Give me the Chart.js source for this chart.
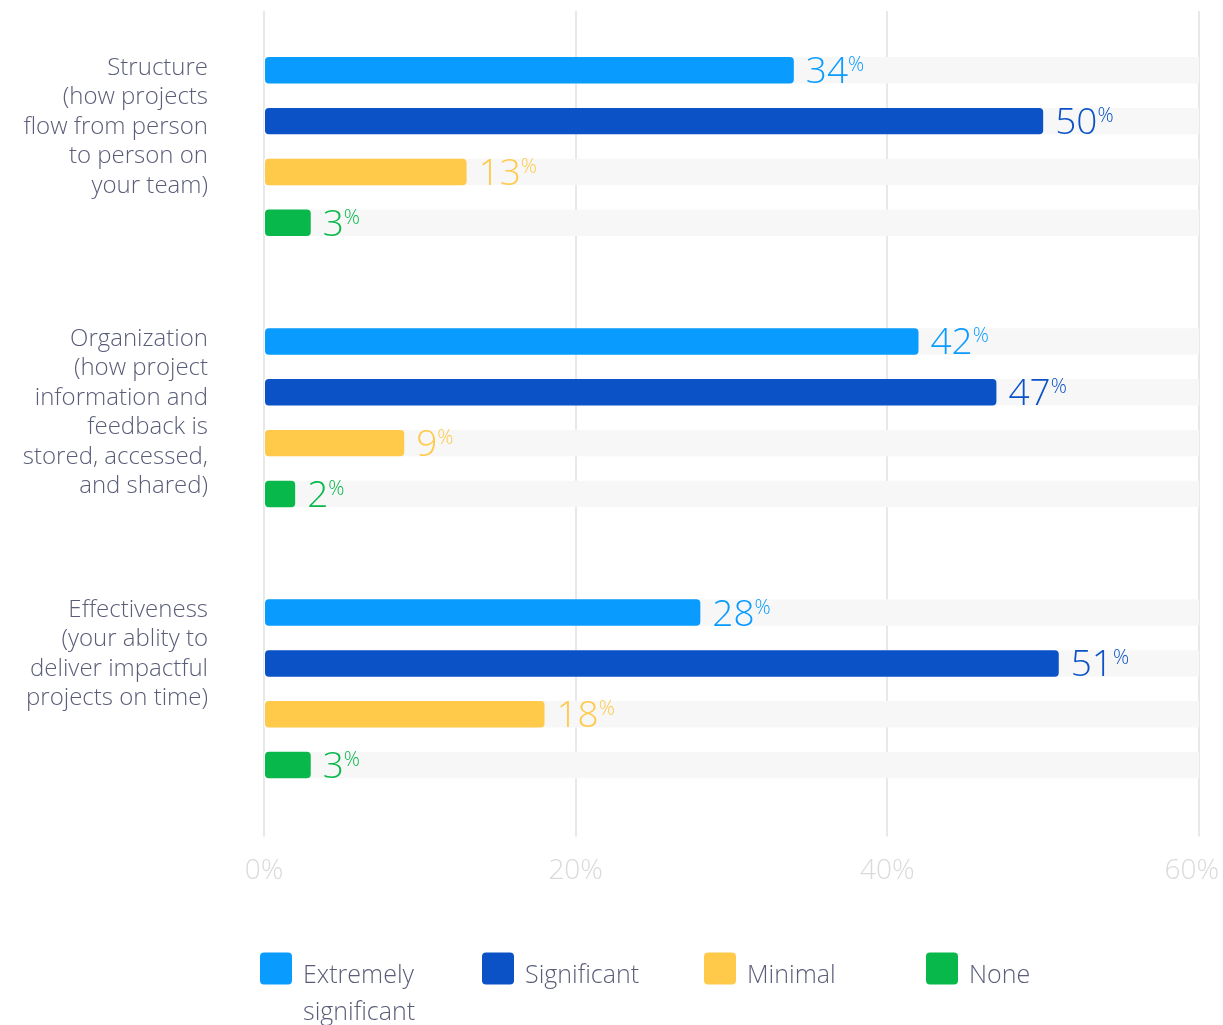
<!DOCTYPE html>
<html>
<head>
<meta charset="utf-8">
<script src="https://cdn.jsdelivr.net/npm/chart.js@4/dist/chart.umd.min.js"></script>
<style>
  html, body { margin: 0; padding: 0; background: #fff; }
  canvas { display: block; }
</style>
</head>
<body>
<canvas id="impactChart" width="1223" height="1025"></canvas>
<script>
// categories (each entry is split over several lines)
const categories = [
    ['Structure', '(how projects', 'flow from person', 'to person on', 'your team)'],
    ['Organization', '(how project', 'information and', 'feedback is', 'stored, accessed,', 'and shared)'],
    ['Effectiveness', '(your ablity to', 'deliver impactful', 'projects on time)']
];

const seriesNames = ['Extremely significant', 'Significant', 'Minimal', 'None'];
const legendLines = [['Extremely', 'significant'], ['Significant'], ['Minimal'], ['None']];
const seriesColors = ['#0a9bff', '#0b52c6', '#ffc94a', '#08b84a'];

// share of answers, in percent
const extremelyValues = [34, 42, 28];
const significantValues = [50, 47, 51];
const minimalValues = [13, 9, 18];
const noneValues = [3, 2, 3];

const xTicks = [0, 20, 40, 60];

const FONT = '"Open Sans", "Noto Sans", sans-serif';
const TEXT_COLOR = '#5a5d78';

const seriesValues = [extremelyValues, significantValues, minimalValues, noneValues];

// light track drawn behind every bar, out to the end of the axis
const trackPlugin = {
    id: 'tracks',
    beforeDatasetsDraw(chart) {
        const { ctx, chartArea, scales } = chart;
        const right = scales.x.getPixelForValue(xTicks[xTicks.length - 1]);
        ctx.save();
        ctx.fillStyle = '#f7f7f7';
        chart.data.datasets.forEach((ds, i) => {
            chart.getDatasetMeta(i).data.forEach(bar => {
                ctx.fillRect(chartArea.left, bar.y - bar.height / 2, right - chartArea.left, bar.height);
            });
        });
        ctx.restore();
    }
};

// value next to each bar, with a small raised percent sign
const valueLabelPlugin = {
    id: 'valueLabels',
    afterDatasetsDraw(chart) {
        const { ctx } = chart;
        ctx.save();
        ctx.textAlign = 'left';
        ctx.textBaseline = 'alphabetic';
        chart.data.datasets.forEach((ds, i) => {
            chart.getDatasetMeta(i).data.forEach((bar, j) => {
                const text = String(ds.data[j]);
                const x = bar.x + 12;
                ctx.fillStyle = ds.backgroundColor;
                ctx.font = '300 37px ' + FONT;
                ctx.fillText(text, x, bar.y + 13);
                const w = ctx.measureText(text).width;
                ctx.font = '300 20px ' + FONT;
                ctx.fillText('%', x + w, bar.y + 1);
            });
        });
        ctx.restore();
    }
};

// right-aligned category text, top-aligned with the first bar of each group
const categoryLabelPlugin = {
    id: 'categoryLabels',
    afterDraw(chart) {
        const { ctx, chartArea, scales } = chart;
        ctx.save();
        ctx.font = '300 24px ' + FONT;
        ctx.fillStyle = TEXT_COLOR;
        ctx.textAlign = 'right';
        ctx.textBaseline = 'alphabetic';
        categories.forEach((lines, i) => {
            const yCenter = scales.y.getPixelForValue(i);
            lines.forEach((line, k) => {
                ctx.fillText(line, chartArea.left - 56, yCenter - 72 + k * 29.5);
            });
        });
        ctx.restore();
    }
};

// legend row under the axis
const legendPlugin = {
    id: 'customLegend',
    afterDraw(chart) {
        const { ctx, chartArea } = chart;
        const startX = chartArea.left - 4;
        const top = chartArea.bottom + 128;
        ctx.save();
        chart.data.datasets.forEach((ds, i) => {
            const x = startX + i * 222;
            ctx.fillStyle = ds.backgroundColor;
            ctx.beginPath();
            ctx.roundRect(x, top, 32, 32, 4);
            ctx.fill();
            ctx.fillStyle = TEXT_COLOR;
            ctx.font = '300 25px ' + FONT;
            ctx.textAlign = 'left';
            ctx.textBaseline = 'alphabetic';
            legendLines[i].forEach((line, k) => {
                ctx.fillText(line, x + 43, top + 31 + k * 37);
            });
        });
        ctx.restore();
    }
};

const ctx = document.getElementById('impactChart').getContext('2d');
const impactChart = new Chart(ctx, {
    type: 'bar',
    data: {
        labels: categories.map(c => c.join(' ')),
        datasets: seriesNames.map((name, i) => ({
            label: name,
            data: seriesValues[i],
            backgroundColor: seriesColors[i],
            borderRadius: 4,
            borderSkipped: false,
            categoryPercentage: 0.75,
            barPercentage: 0.52
        }))
    },
    options: {
        indexAxis: 'y',
        responsive: false,
        animation: false,
        devicePixelRatio: 1,
        layout: {
            padding: { left: 264, right: 24, top: 11, bottom: 119 }
        },
        plugins: {
            legend: { display: false },
            tooltip: { enabled: false }
        },
        scales: {
            y: {
                display: false
            },
            x: {
                min: 0,
                max: 60,
                afterBuildTicks(scale) {
                    scale.ticks = xTicks.map(v => ({ value: v }));
                },
                afterFit(scale) {
                    // let the end labels overhang instead of shrinking the plot
                    scale.paddingLeft = 0;
                    scale.paddingRight = 0;
                },
                grid: {
                    color: '#e8e8e8',
                    lineWidth: 2,
                    drawTicks: true,
                    tickLength: 12,
                    tickColor: '#e8e8e8'
                },
                border: { display: false },
                ticks: {
                    padding: 18,
                    color: '#dadada',
                    font: { family: FONT, size: 28, weight: '300' },
                    maxRotation: 0,
                    // trailing spaces nudge the last label inside the canvas
                    callback: v => v === xTicks[xTicks.length - 1] ? v + '%  ' : v + '%'
                }
            }
        }
    },
    plugins: [trackPlugin, valueLabelPlugin, categoryLabelPlugin, legendPlugin]
});
</script>
</body>
</html>
